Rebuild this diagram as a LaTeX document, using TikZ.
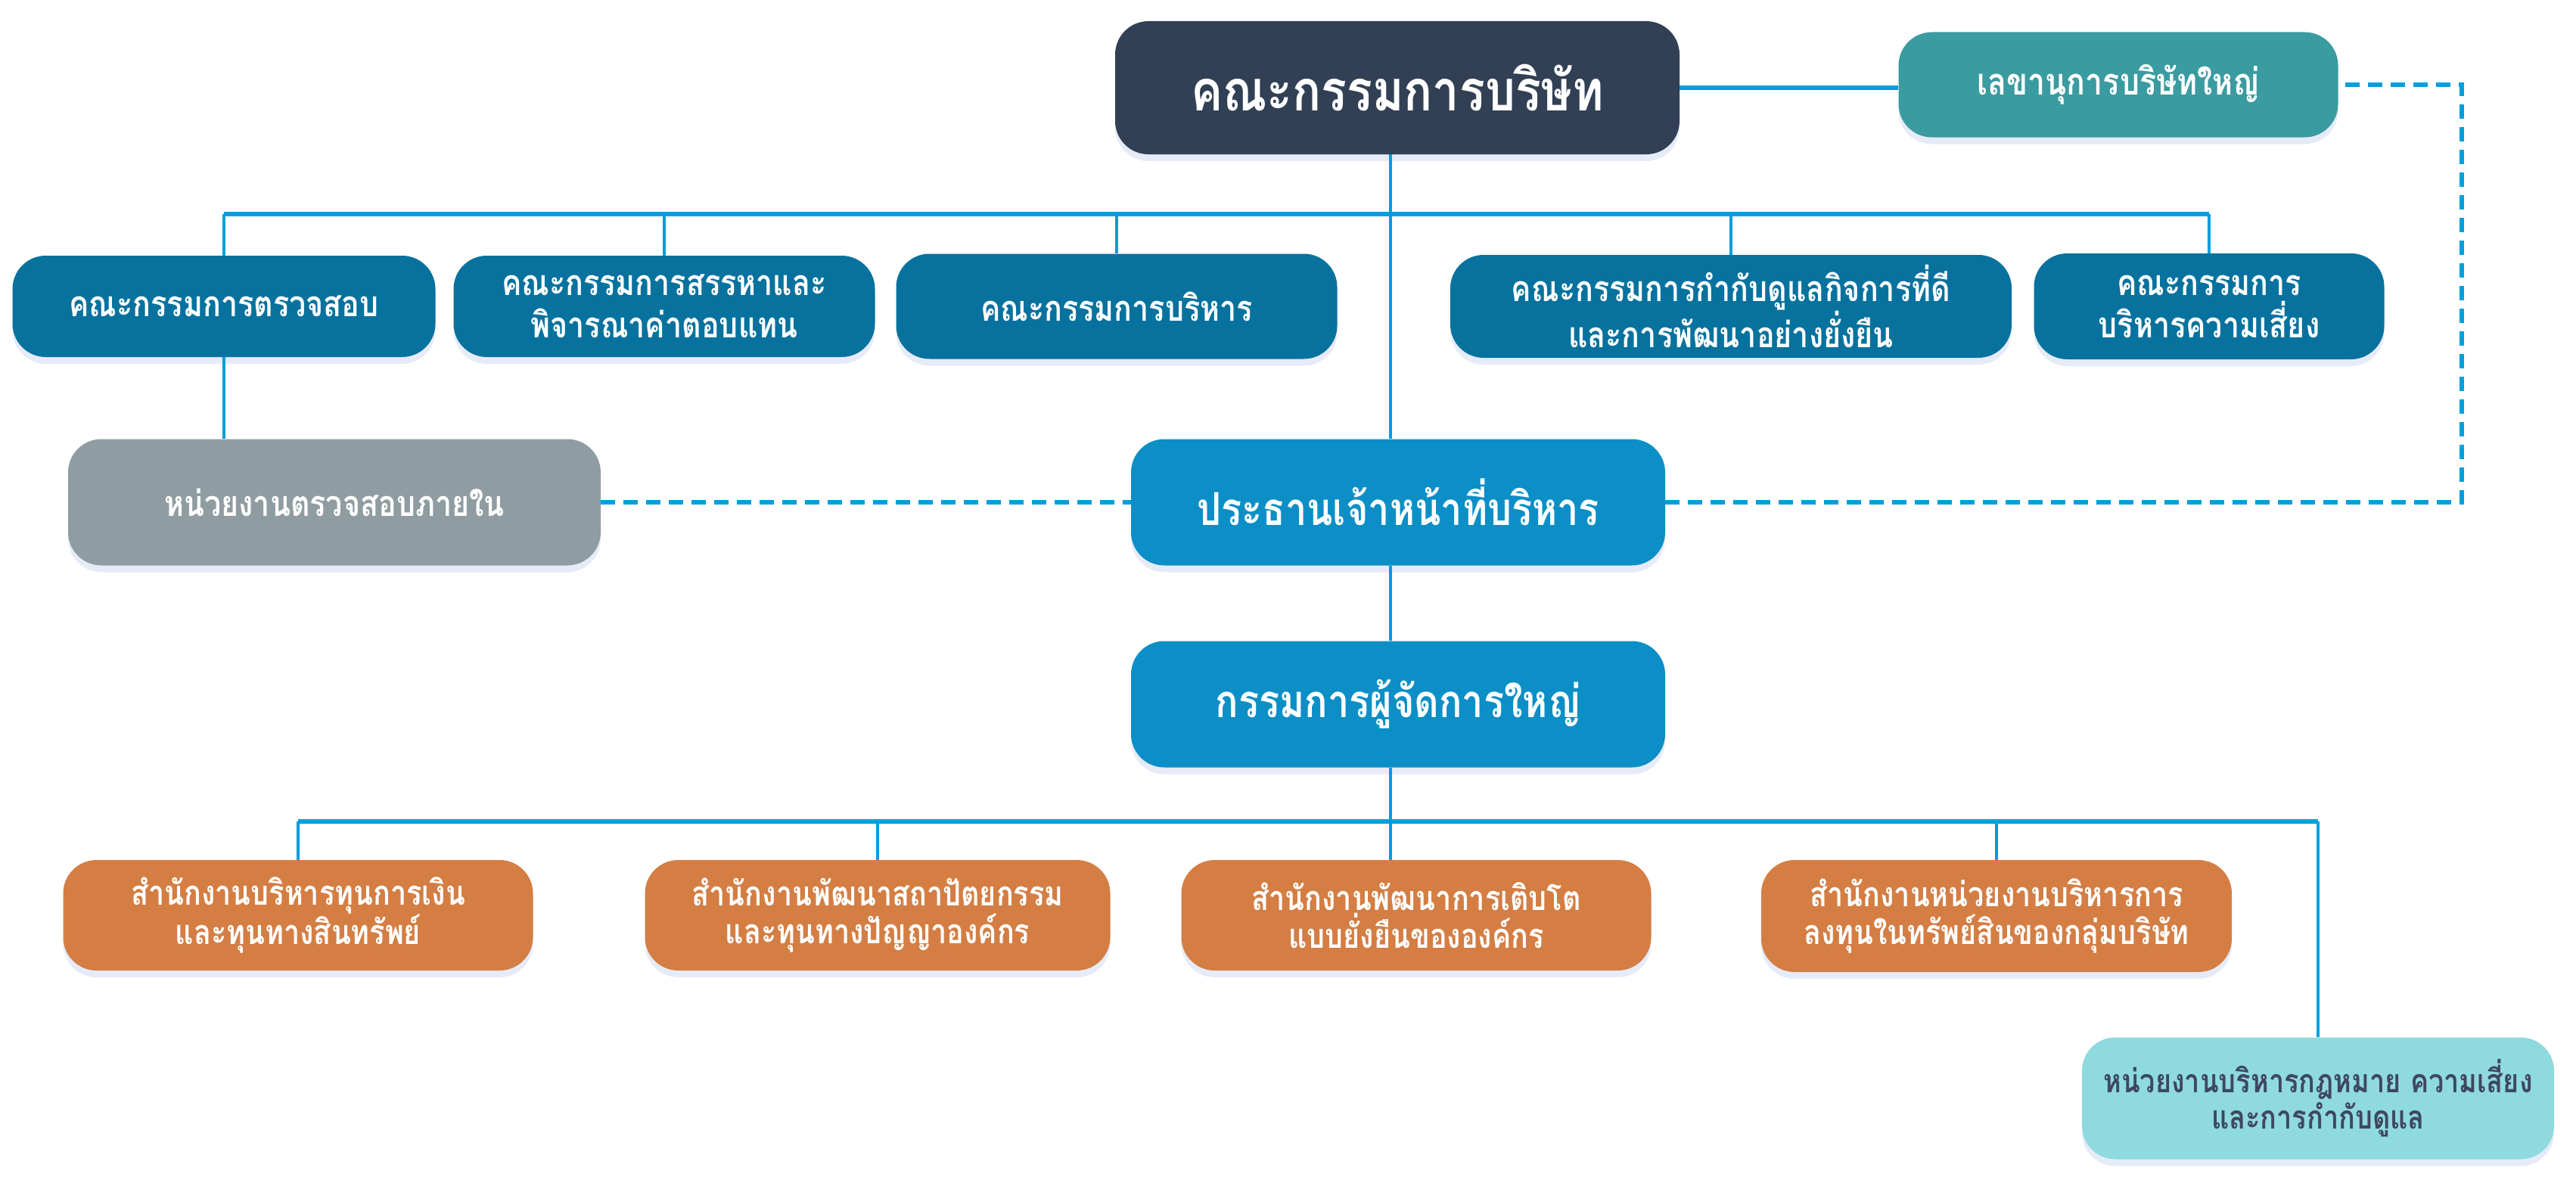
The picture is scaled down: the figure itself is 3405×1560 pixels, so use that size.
\documentclass[tikz,border=0pt]{standalone}
\usepackage{fontspec}
\newfontfamily\thaifont[Script=Thai, FakeStretch=0.84]{Loma}
\usepackage{tikz}
\usetikzlibrary{shadows}
\usepackage{xcolor}
\definecolor{boardnavy}{HTML}{324055}
\definecolor{secteal}{HTML}{3A9BA0}
\definecolor{cmtblue}{HTML}{07729E}
\definecolor{auditgray}{HTML}{8F9DA2}
\definecolor{ceoblue}{HTML}{0B8FC6}
\definecolor{officeorange}{HTML}{D47E44}
\definecolor{legalcyan}{HTML}{8FDADE}
\definecolor{legaltext}{HTML}{3E4860}
\definecolor{linkblue}{HTML}{009EDC}
\definecolor{shadowblue}{HTML}{B8C6EA}
\tikzset{
    orgbox/.style={
        rounded corners=44pt,
        inner sep=0pt,
        align=center,
        text=white,
        drop shadow={shadow xshift=0pt, shadow yshift=-9pt, fill=shadowblue, opacity=0.35}
    },
    bus/.style={draw=linkblue, line width=6pt},
    drop/.style={draw=linkblue, line width=4.5pt},
    dotlink/.style={draw=linkblue, line width=5.5pt, dash pattern=on 19pt off 11pt}
}

\begin{document}
\begin{tikzpicture}[x=1pt, y=-1pt]
  \useasboundingbox (0,0) rectangle (3405,1560);
  % Board and secretary
  \node[orgbox, fill=boardnavy, minimum width=746pt, minimum height=176pt,
        font=\thaifont\bfseries\fontsize{75}{90}\selectfont] (board) at (1847,116) {คณะกรรมการบริษัท};
  \node[orgbox, fill=secteal, minimum width=581pt, minimum height=139pt,
        font=\thaifont\bfseries\fontsize{49}{60}\selectfont] (sec) at (2800,112) {เลขานุการบริษัทใหญ่};

  % Sub-committees
  \node[orgbox, fill=cmtblue, minimum width=559pt, minimum height=134pt,
        font=\thaifont\bfseries\fontsize{47}{56}\selectfont] (auditc) at (296,405) {คณะกรรมการตรวจสอบ};
  \node[orgbox, fill=cmtblue, minimum width=557pt, minimum height=134pt,
        font=\thaifont\bfseries\fontsize{47}{56}\selectfont] (nomc) at (878,405) {คณะกรรมการสรรหาและ\\พิจารณาค่าตอบแทน};
  \node[orgbox, fill=cmtblue, minimum width=583pt, minimum height=139pt,
        font=\thaifont\bfseries\fontsize{47}{56}\selectfont] (exc) at (1476,405) {คณะกรรมการบริหาร};
  \node[orgbox, fill=cmtblue, minimum width=742pt, minimum height=136pt,
        font=\thaifont\bfseries\fontsize{47}{56}\selectfont] (cgc) at (2288,405) {คณะกรรมการกำกับดูแลกิจการที่ดี\\และการพัฒนาอย่างยั่งยืน};
  \node[orgbox, fill=cmtblue, minimum width=463pt, minimum height=140pt,
        font=\thaifont\bfseries\fontsize{47}{56}\selectfont] (riskc) at (2920,405) {คณะกรรมการ\\บริหารความเสี่ยง};

  % Executives
  \node[orgbox, fill=auditgray, minimum width=704pt, minimum height=167pt,
        font=\thaifont\bfseries\fontsize{47}{56}\selectfont] (ia) at (442,664) {หน่วยงานตรวจสอบภายใน};
  \node[orgbox, fill=ceoblue, minimum width=706pt, minimum height=167pt,
        font=\thaifont\bfseries\fontsize{60}{72}\selectfont] (ceo) at (1848,664) {ประธานเจ้าหน้าที่บริหาร};
  \node[orgbox, fill=ceoblue, minimum width=706pt, minimum height=167pt,
        font=\thaifont\bfseries\fontsize{60}{72}\selectfont] (md) at (1848,931) {กรรมการผู้จัดการใหญ่};

  % Offices
  \node[orgbox, fill=officeorange, minimum width=621pt, minimum height=146pt,
        font=\thaifont\bfseries\fontsize{45}{50}\selectfont] (off1) at (394,1210) {สำนักงานบริหารทุนการเงิน\\และทุนทางสินทรัพย์};
  \node[orgbox, fill=officeorange, minimum width=615pt, minimum height=146pt,
        font=\thaifont\bfseries\fontsize{45}{50}\selectfont] (off2) at (1160,1210) {สำนักงานพัฒนาสถาปัตยกรรม\\และทุนทางปัญญาองค์กร};
  \node[orgbox, fill=officeorange, minimum width=621pt, minimum height=146pt,
        font=\thaifont\bfseries\fontsize{45}{50}\selectfont] (off3) at (1872,1210) {สำนักงานพัฒนาการเติบโต\\แบบยั่งยืนขององค์กร};
  \node[orgbox, fill=officeorange, minimum width=622pt, minimum height=148pt,
        font=\thaifont\bfseries\fontsize{45}{50}\selectfont] (off4) at (2639,1211) {สำนักงานหน่วยงานบริหารการ\\ลงทุนในทรัพย์สินของกลุ่มบริษัท};
  \node[orgbox, fill=legalcyan, text=legaltext, minimum width=624pt, minimum height=161pt,
        font=\thaifont\bfseries\fontsize{43}{48}\selectfont] (legal) at (3064,1452) {หน่วยงานบริหารกฎหมาย ความเสี่ยง\\และการกำกับดูแล};

  % Helper coordinates for the buses
  \coordinate (topbus) at (0,283);
  \coordinate (lowbus) at (0,1086);
  \coordinate (trunk) at (1838,0);
  \coordinate (rail) at (3254,0);

  % Board level connectors
  \draw[bus] (board.east) -- (sec.west |- board.east);
  \draw[bus] (auditc.north |- topbus) -- (riskc.north |- topbus);
  \foreach \n in {auditc, nomc, exc, cgc, riskc}
    \draw[drop] (\n.north |- topbus) -- (\n.north);
  \draw[drop] (auditc.south) -- (auditc.south |- ia.north);
  \draw[drop] (board.south -| trunk) -- (ceo.north -| trunk);
  \draw[drop] (ceo.south -| trunk) -- (md.north -| trunk);

  % Dashed reporting lines
  \draw[dotlink] (ia.east) -- (ceo.west);
  \draw[dotlink] (ceo.east) -- (ceo.east -| rail) -- (sec.east -| rail) -- (sec.east);

  % Office level connectors
  \draw[drop] (md.south -| trunk) -- (lowbus -| trunk);
  \draw[bus] (off1.north |- lowbus) -- (legal.north |- lowbus);
  \foreach \n in {off1, off2, off4, legal}
    \draw[drop] (\n.north |- lowbus) -- (\n.north);
  \draw[drop] (lowbus -| trunk) -- (off3.north -| trunk);
\end{tikzpicture}
\end{document}
